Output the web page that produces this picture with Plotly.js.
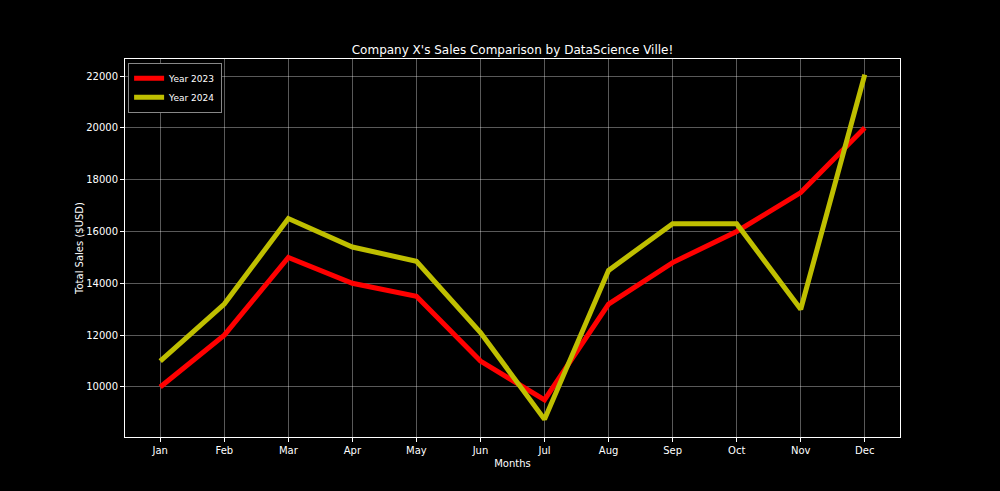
<!DOCTYPE html>
<html>
<head>
<meta charset="utf-8">
<script src="https://cdn.plot.ly/plotly-3.0.1.min.js"></script>
<style>html,body{margin:0;padding:0;background:#000;}#chart{width:1000px;height:491px;}</style>
</head>
<body>
<div id="chart"></div>
<script>
const months = ['Jan','Feb','Mar','Apr','May','Jun','Jul','Aug','Sep','Oct','Nov','Dec'];
const sales2023 = [10000,12000,15000,14000,13500,11000,9500,13200,14800,16000,17500,20000];
const sales2024 = [11000,13200,16500,15400,14850,12100,8750,14500,16300,16300,13000,22050];
const yTicks = [10000,12000,14000,16000,18000,20000,22000];

const traces = [
  {x: months, y: sales2023, type: 'scatter', mode: 'lines', name: 'Year 2023',
   line: {color: '#ff0000', width: 5}},
  {x: months, y: sales2024, type: 'scatter', mode: 'lines', name: 'Year 2024',
   line: {color: '#bfbf00', width: 5}}
];

const layout = {
  width: 1000, height: 491,
  paper_bgcolor: '#000', plot_bgcolor: '#000',
  font: {family: 'DejaVu Sans, sans-serif', color: '#fff', size: 10},
  margin: {l: 125, r: 100, t: 59, b: 54},
  title: {text: "Company X's Sales Comparison by DataScience Ville!", font: {size: 12, color: '#fff'},
          x: 0.5125, xanchor: 'center', y: 1 - 50/491, yanchor: 'middle'},
  showlegend: true,
  legend: {x: 0.004, y: 0.99, xanchor: 'left', yanchor: 'top', bgcolor: '#000',
           bordercolor: '#888', borderwidth: 1, font: {size: 9, color: '#fff'},
           itemwidth: 30},
  xaxis: {
    type: 'category', range: [-0.55, 11.55],
    title: {text: 'Months', font: {size: 10, color: '#fff'}, standoff: 4},
    showgrid: true, gridcolor: 'rgba(255,255,255,0.35)', gridwidth: 1,
    showline: true, linecolor: '#fff', linewidth: 1, mirror: true,
    ticks: 'outside', ticklen: 4, tickcolor: '#fff', zeroline: false,
    tickfont: {size: 10, color: '#fff'}
  },
  yaxis: {
    range: [8070, 22656], tickvals: yTicks, ticktext: yTicks.map(String),
    title: {text: 'Total Sales ($USD)', font: {size: 10, color: '#fff'}, standoff: 0},
    showgrid: true, gridcolor: 'rgba(255,255,255,0.35)', gridwidth: 1,
    showline: true, linecolor: '#fff', linewidth: 1, mirror: true,
    ticks: 'outside', ticklen: 4, tickcolor: '#fff', zeroline: false,
    tickfont: {size: 10, color: '#fff'}
  }
};

Plotly.newPlot('chart', traces, layout, {displayModeBar: false, staticPlot: true});
</script>
</body>
</html>
